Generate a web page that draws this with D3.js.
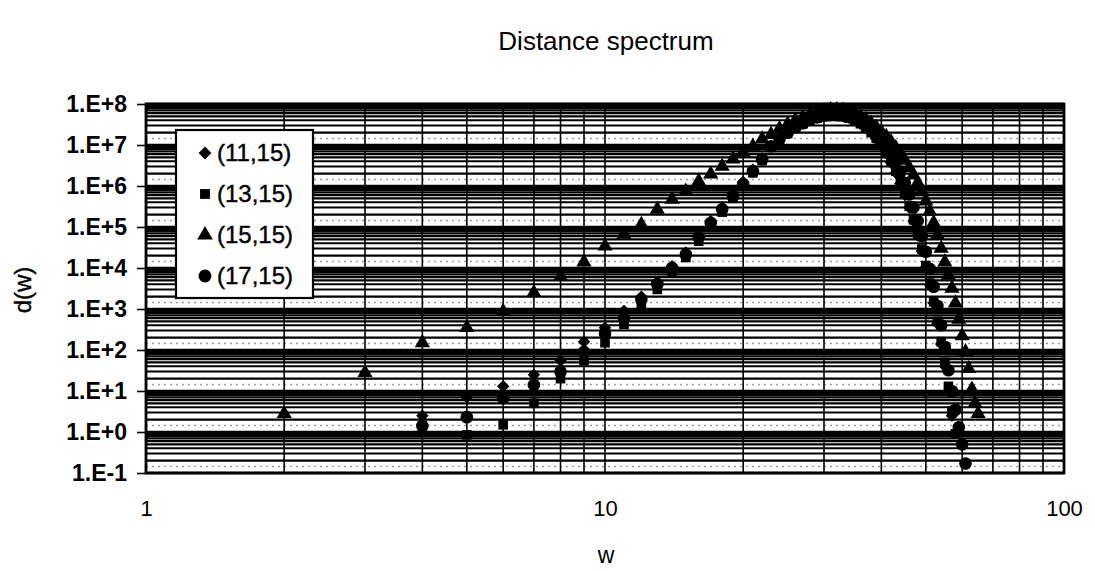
<!DOCTYPE html>
<html>
<head>
<meta charset="utf-8">
<script src="https://cdn.jsdelivr.net/npm/d3@7"></script>
<style>
	body { margin: 0; background: #fff; }
	text { font-family: "Liberation Sans", Arial, sans-serif; fill: #000; }
	.axis path, .axis line { stroke: #000; }
</style>
</head>
<body>
<div id="chart-area"></div>
<script>
// Weights (w) and spectrum values d(w) for each code
let wA = [4,5,6,7,8,9,10,11,12,13,14,15,16,17,18,19,20,21,22,23,24,25,26,27,28,29,30,31,32,33,34,35,36,37,38,39,40,41,42,43,44,45,46,47,48,49,50,51,52,53,54,55,56,57];
let dA = [2.5,7,13,25,55,160,350,900,2000,4500,1.1e4,2.4e4,6.0e4,1.4e5,3.0e5,6.2e5,1.25e6,2.5e6,4.7e6,9.5e6,1.45e7,2.0e7,2.7e7,3.4e7,4.1e7,4.6e7,5.0e7,5.2e7,5.2e7,5.0e7,4.6e7,4.0e7,3.3e7,2.6e7,2.0e7,1.4e7,9.5e6,6.2e6,3.7e6,2.1e6,1.15e6,6.0e5,3.0e5,1.4e5,6.2e4,2.6e4,1.05e4,3900,1400,450,140,40,10,2.5];

let wB = [4,5,6,7,8,9,10,11,12,13,14,15,16,17,18,19,20,21,22,23,24,25,26,27,28,29,30,31,32,33,34,35,36,37,38,39,40,41,42,43,44,45,46,47,48,49,50,51,52,53,54,55,56,57,58];
let dB = [1.4,0.85,1.5,5,20,55,150,420,1300,3000,8000,1.8e4,4.5e4,1.1e5,2.3e5,5.0e5,1.0e6,2.1e6,4.2e6,8.8e6,1.35e7,1.9e7,2.6e7,3.3e7,4.0e7,4.5e7,4.9e7,5.1e7,5.1e7,4.9e7,4.5e7,4.0e7,3.3e7,2.7e7,2.0e7,1.45e7,1.0e7,6.5e6,4.0e6,2.3e6,1.25e6,6.5e5,3.2e5,1.5e5,6.8e4,2.9e4,1.15e4,4300,1500,500,160,50,13,3.2,0.9];

let wC = [2,3,4,5,6,7,8,9,10,11,12,13,14,15,16,17,18,19,20,21,22,23,24,25,26,27,28,29,30,31,32,33,34,35,36,37,38,39,40,41,42,43,44,45,46,47,48,49,50,51,52,53,54,55,56,57,58,59,60,61,62,63,64,65];
let dC = [2.8,28,150,350,870,2500,6200,1.4e4,3.4e4,6.6e4,1.15e5,2.7e5,4.7e5,7.4e5,1.3e6,1.95e6,3.0e6,4.5e6,6.6e6,9.3e6,1.4e7,1.8e7,2.5e7,3.2e7,4.0e7,4.8e7,5.6e7,6.3e7,6.9e7,7.2e7,7.2e7,7.0e7,6.6e7,5.9e7,5.0e7,4.2e7,3.4e7,2.7e7,2.1e7,1.6e7,1.2e7,8.5e6,6.0e6,4.2e6,2.8e6,1.85e6,1.2e6,7.2e5,4.3e5,2.4e5,1.26e5,6.3e4,3.0e4,1.4e4,6600,3200,1400,560,220,90,35,11,5,2.8];

let wD = [4,5,6,7,8,9,10,11,12,13,14,15,16,17,18,19,20,21,22,23,24,25,26,27,28,29,30,31,32,33,34,35,36,37,38,39,40,41,42,43,44,45,46,47,48,49,50,51,52,53,54,55,56,57,58,59,60,61];
let dD = [1.4,2.3,6.7,14,30,90,250,600,1700,4000,1.0e4,2.1e4,5.6e4,1.25e5,2.7e5,5.6e5,1.1e6,2.3e6,4.5e6,9.3e6,1.4e7,2.0e7,2.7e7,3.4e7,4.2e7,4.8e7,5.3e7,5.6e7,5.7e7,5.6e7,5.2e7,4.7e7,4.0e7,3.3e7,2.6e7,1.95e7,1.4e7,9.5e6,6.2e6,3.8e6,2.2e6,1.2e6,6.2e5,3.0e5,1.4e5,6.0e4,2.5e4,9500,3500,1200,400,120,32,10,3.5,1.3,0.5,0.17];

let seriesNames = ["(11,15)", "(13,15)", "(15,15)", "(17,15)"];
let yTicks = [1e-1,1e0,1e1,1e2,1e3,1e4,1e5,1e6,1e7,1e8];
let yTickLabels = ["1.E-1","1.E+0","1.E+1","1.E+2","1.E+3","1.E+4","1.E+5","1.E+6","1.E+7","1.E+8"];
let xTicks = [1, 10, 100];

// Build series table for drawing
let series = [
	{name: seriesNames[0], w: wA, d: dA, shape: "diamond"},
	{name: seriesNames[1], w: wB, d: dB, shape: "square"},
	{name: seriesNames[2], w: wC, d: dC, shape: "triangle"},
	{name: seriesNames[3], w: wD, d: dD, shape: "circle"}
];

// SVG drawing space
let W = 1095, H = 571;
let margin = {top: 104, right: 31, bottom: 98, left: 146};
let width = W - margin.left - margin.right;
let height = H - margin.top - margin.bottom;

let root = d3.select("#chart-area")
	.append("svg")
	.attr("width", W)
	.attr("height", H);
let svg = root.append("g")
	.attr("transform", "translate(" + margin.left + "," + margin.top + ")");

// Scales
let x = d3.scaleLog().domain([1, 100]).range([0, width]);
let y = d3.scaleLog().domain([1e-1, 1e8]).range([height, 0]);

// Plot background
svg.append("rect")
	.attr("width", width)
	.attr("height", height)
	.attr("fill", "#fff");

// Halftone-like dotted rows in the widest gap of each decade
let dotRows = [];
for (let e = -1; e < 8; e++) dotRows.push(1.45 * Math.pow(10, e));
svg.append("g").attr("class", "dots")
	.selectAll("line")
	.data(dotRows)
	.enter()
	.append("line")
	.attr("x1", 0)
	.attr("x2", width)
	.attr("y1", d => y(d))
	.attr("y2", d => y(d))
	.attr("stroke", "#9a9a9a")
	.attr("stroke-width", 1.5)
	.attr("stroke-dasharray", "2,4");

// Horizontal gridlines (minor + major)
let yGrid = [];
for (let e = -1; e < 8; e++) {
	for (let m = 1; m < 10; m++) yGrid.push(m * Math.pow(10, e));
}
yGrid.push(1e8);
svg.append("g").attr("class", "ygrid")
	.selectAll("line")
	.data(yGrid)
	.enter()
	.append("line")
	.attr("x1", 0)
	.attr("x2", width)
	.attr("y1", d => y(d))
	.attr("y2", d => y(d))
	.attr("stroke", "#000")
	.attr("stroke-width", d => Math.abs(Math.log10(d) - Math.round(Math.log10(d))) < 1e-9 ? 2.6 : 2.1);

// Vertical gridlines
let xGrid = [];
for (let e = 0; e < 2; e++) {
	for (let m = 1; m < 10; m++) xGrid.push(m * Math.pow(10, e));
}
svg.append("g").attr("class", "xgrid")
	.selectAll("line")
	.data(xGrid)
	.enter()
	.append("line")
	.attr("x1", d => x(d))
	.attr("x2", d => x(d))
	.attr("y1", 0)
	.attr("y2", height)
	.attr("stroke", "#000")
	.attr("stroke-width", 1.6);

// Axes
let yAxis = d3.axisLeft(y)
	.tickValues(yTicks)
	.tickFormat((d, i) => yTickLabels[i])
	.tickSize(9)
	.tickPadding(10);
svg.append("g")
	.attr("class", "axis y-axis")
	.call(yAxis)
	.call(g => g.selectAll("text").style("font-size", "23px").style("font-weight", "bold"))
	.call(g => g.selectAll("line").attr("stroke-width", 1.6))
	.call(g => g.select(".domain").remove());

let xAxis = d3.axisBottom(x)
	.tickValues(xTicks)
	.tickFormat(d3.format("d"))
	.tickSize(0)
	.tickPadding(27);
svg.append("g")
	.attr("class", "axis x-axis")
	.attr("transform", "translate(0," + height + ")")
	.call(xAxis)
	.call(g => g.selectAll("text").style("font-size", "22px"))
	.call(g => g.select(".domain").remove());

// Plot frame
svg.append("rect")
	.attr("width", width)
	.attr("height", height)
	.attr("fill", "none")
	.attr("stroke", "#000")
	.attr("stroke-width", 2.8);

// Marker shapes
function symbolPath(shape, scale) {
	let s = scale || 1;
	if (shape === "diamond") return d3.symbol().type(d3.symbolSquare).size(78 * s)();
	if (shape === "square") return d3.symbol().type(d3.symbolSquare).size(92 * s)();
	if (shape === "triangle") return d3.symbol().type(d3.symbolTriangle).size(100 * s)();
	return d3.symbol().type(d3.symbolCircle).size(125 * s)();
}

// Points
series.forEach(s => {
	let pts = s.w.map((w, i) => ({w: w, d: s.d[i]}));
	svg.append("g")
		.attr("class", "series")
		.selectAll("path")
		.data(pts)
		.enter()
		.append("path")
		.attr("d", symbolPath(s.shape))
		.attr("transform", p => "translate(" + x(p.w) + "," + y(p.d) + ")" + (s.shape === "diamond" ? " rotate(45)" : ""))
		.attr("fill", "#000");
});

// Legend
let legend = root.append("g")
	.attr("transform", "translate(176,130)");
legend.append("rect")
	.attr("width", 137)
	.attr("height", 168)
	.attr("fill", "#fff")
	.attr("stroke", "#000")
	.attr("stroke-width", 2.2);
series.forEach((s, i) => {
	let gy = 23 + i * 41;
	legend.append("path")
		.attr("d", symbolPath(s.shape, 1.05))
		.attr("transform", "translate(29," + gy + ")" + (s.shape === "diamond" ? " rotate(45)" : ""))
		.attr("fill", "#000");
	legend.append("text")
		.attr("x", 41)
		.attr("y", gy + 8)
		.style("font-size", "24px")
		.style("stroke", "#000")
		.style("stroke-width", 0.4)
		.text(s.name);
});

// Titles
root.append("text")
	.attr("x", 606)
	.attr("y", 50)
	.attr("text-anchor", "middle")
	.style("font-size", "26px")
	.text("Distance spectrum");

root.append("text")
	.attr("x", 606)
	.attr("y", 563)
	.attr("text-anchor", "middle")
	.style("font-size", "23px")
	.text("w");

root.append("text")
	.attr("transform", "translate(31,290) rotate(-90)")
	.attr("text-anchor", "middle")
	.style("font-size", "24px")
	.style("stroke", "#000")
	.style("stroke-width", 0.4)
	.text("d(w)");
</script>
</body>
</html>
